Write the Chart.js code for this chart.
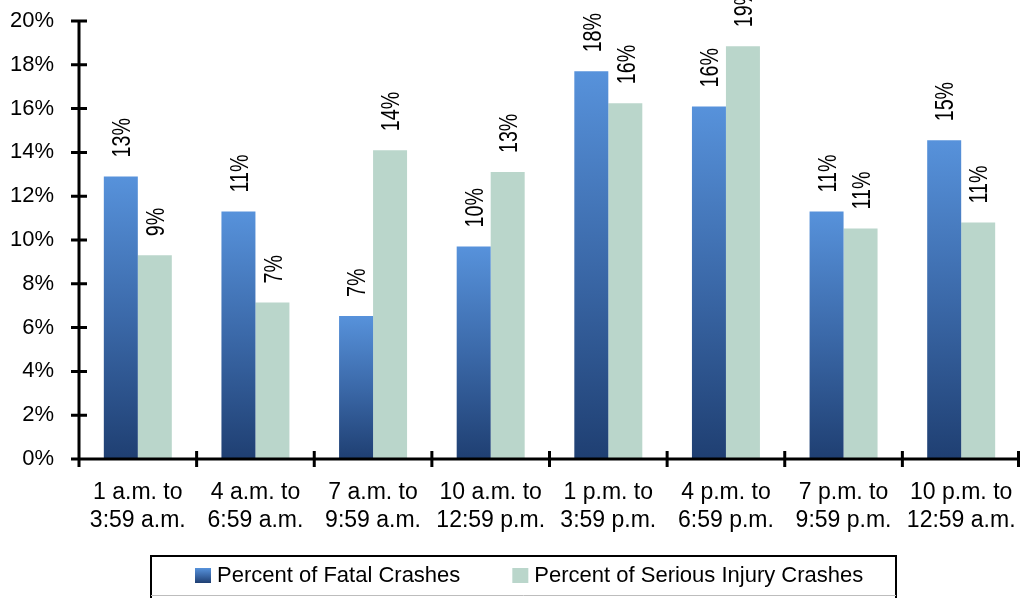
<!DOCTYPE html>
<html>
<head>
<meta charset="utf-8">
<title>Crashes by time of day</title>
<script src="https://cdn.jsdelivr.net/npm/chart.js@4.4.1/dist/chart.umd.min.js"></script>
<style>
  body { margin: 0; background: #fff; }
  #wrap { position: relative; width: 1022px; height: 598px; }
</style>
</head>
<body>
<div id="wrap"><canvas id="barChart"></canvas></div>
<script>
  const categories = [
    ['1 a.m. to', '3:59 a.m.'],
    ['4 a.m. to', '6:59 a.m.'],
    ['7 a.m. to', '9:59 a.m.'],
    ['10 a.m. to', '12:59 p.m.'],
    ['1 p.m. to', '3:59 p.m.'],
    ['4 p.m. to', '6:59 p.m.'],
    ['7 p.m. to', '9:59 p.m.'],
    ['10 p.m. to', '12:59 a.m.']
  ];
  const fatalCrashes = [12.9, 11.3, 6.53, 9.7, 17.7, 16.1, 11.3, 14.55];
  const seriousInjuryCrashes = [9.3, 7.15, 14.1, 13.1, 16.25, 18.85, 10.52, 10.8];
  const yTicks = [0, 2, 4, 6, 8, 10, 12, 14, 16, 18, 20];

  const fontFamily = '"Liberation Sans", Arial, sans-serif';
  Chart.defaults.font.family = fontFamily;
  Chart.defaults.color = '#000';

  const swatchTop = 568, swatchSize = 15;

  function blueGradient(chart, top, bottom) {
    const g = chart.ctx.createLinearGradient(0, top, 0, bottom);
    g.addColorStop(0, '#5792db');
    g.addColorStop(0.5, '#3b69a9');
    g.addColorStop(1, '#1f3f72');
    return g;
  }

  // blue bars: light on top, dark navy at the base (per bar)
  function fatalFill(context) {
    const chart = context.chart;
    let top = swatchTop, bottom = swatchTop + swatchSize;
    if (context.type === 'data' && chart.scales.y) {
      const t = chart.scales.y.getPixelForValue(context.raw);
      const b = chart.scales.y.getPixelForValue(0);
      if (isFinite(t) && isFinite(b) && b > t) {
        top = t;
        bottom = b;
      }
    }
    return blueGradient(chart, top, bottom);
  }

  // black axes with ticks crossing the line
  const axisLines = {
    id: 'axisLines',
    afterDatasetsDraw(chart) {
      const { ctx, chartArea: area, scales: { x, y } } = chart;
      ctx.save();
      ctx.strokeStyle = '#000';
      ctx.lineWidth = 3;
      ctx.beginPath();
      ctx.moveTo(area.left, area.top);
      ctx.lineTo(area.left, area.bottom);
      ctx.moveTo(area.left - 1.5, area.bottom);
      ctx.lineTo(area.right, area.bottom);
      yTicks.forEach(v => {
        const py = y.getPixelForValue(v);
        ctx.moveTo(area.left - 8, py);
        ctx.lineTo(area.left + 8, py);
      });
      const step = (x.right - x.left) / categories.length;
      for (let i = 0; i <= categories.length; i++) {
        const px = Math.min(x.left + step * i, area.right - 1.5);
        ctx.moveTo(px, area.bottom - 8);
        ctx.lineTo(px, area.bottom + 8);
      }
      ctx.stroke();
      ctx.restore();
    }
  };

  // rotated percent labels above each bar (narrow, like the original)
  const valueLabels = {
    id: 'valueLabels',
    afterDatasetsDraw(chart) {
      const ctx = chart.ctx;
      const size = 26;
      ctx.save();
      ctx.font = size + 'px ' + fontFamily;
      ctx.fillStyle = '#000';
      ctx.textAlign = 'left';
      ctx.textBaseline = 'alphabetic';
      chart.data.datasets.forEach((ds, di) => {
        chart.getDatasetMeta(di).data.forEach((bar, i) => {
          ctx.save();
          ctx.translate(bar.x, bar.y - 19);
          ctx.rotate(-Math.PI / 2);
          ctx.scale(0.76, 1);
          ctx.fillText(Math.round(ds.data[i]) + '%', 0, size * 0.358);
          ctx.restore();
        });
      });
      ctx.restore();
    }
  };

  // legend in a box under the axis labels
  const boxedLegend = {
    id: 'boxedLegend',
    afterDraw(chart) {
      const ctx = chart.ctx;
      const centerX = 529, textY = 576;
      ctx.save();
      ctx.font = '22px ' + fontFamily;
      const items = chart.data.datasets.map((ds, di) => ({
        text: ds.label,
        fill: di === 0 ? blueGradient(chart, swatchTop, swatchTop + swatchSize) : ds.backgroundColor,
        width: ctx.measureText(ds.label).width
      }));
      const total = items.reduce((s, it) => s + 22 + it.width, 0) + 52 * (items.length - 1);
      let x = Math.round(centerX - total / 2);
      ctx.textAlign = 'left';
      ctx.textBaseline = 'middle';
      items.forEach(it => {
        ctx.fillStyle = it.fill;
        ctx.fillRect(x, swatchTop, 16, swatchSize);
        ctx.fillStyle = '#000';
        ctx.fillText(it.text, x + 22, textY);
        x += 22 + it.width + 52;
      });

      ctx.strokeStyle = '#000';
      ctx.lineWidth = 2;
      ctx.beginPath();
      ctx.moveTo(151, 598);
      ctx.lineTo(151, 556);
      ctx.lineTo(896, 556);
      ctx.lineTo(896, 598);
      ctx.stroke();
      ctx.strokeStyle = '#bdbdbd';
      ctx.lineWidth = 1;
      ctx.beginPath();
      ctx.moveTo(151, 595.5);
      ctx.lineTo(896, 595.5);
      ctx.stroke();
      ctx.restore();
    }
  };

  const ctx = document.getElementById('barChart').getContext('2d');
  new Chart(ctx, {
    type: 'bar',
    data: {
      labels: categories,
      datasets: [{
        label: 'Percent of Fatal Crashes',
        data: fatalCrashes,
        backgroundColor: fatalFill,
        borderWidth: 0,
        categoryPercentage: 0.578,
        barPercentage: 1
      }, {
        label: 'Percent of Serious Injury Crashes',
        data: seriousInjuryCrashes,
        backgroundColor: '#bad6cb',
        borderWidth: 0,
        categoryPercentage: 0.578,
        barPercentage: 1
      }]
    },
    options: {
      responsive: true,
      maintainAspectRatio: false,
      animation: false,
      layout: { padding: { left: 0, right: 2, top: 21, bottom: 0 } },
      scales: {
        x: {
          grid: { display: false, drawTicks: true, tickLength: 19 },
          border: { display: false },
          ticks: {
            font: { size: 23, lineHeight: 1.25 },
            padding: 0,
            maxRotation: 0,
            autoSkip: false
          },
          afterFit: scale => { scale.height = 139; }
        },
        y: {
          min: 0,
          max: 20,
          grid: { display: false, drawTicks: true, tickLength: 25 },
          border: { display: false },
          ticks: {
            stepSize: 2,
            font: { size: 22 },
            padding: 0,
            callback: v => v + '%'
          },
          afterFit: scale => { scale.width = 79; }
        }
      },
      plugins: {
        legend: { display: false },
        tooltip: { enabled: false }
      }
    },
    plugins: [axisLines, valueLabels, boxedLegend]
  });
</script>
</body>
</html>
